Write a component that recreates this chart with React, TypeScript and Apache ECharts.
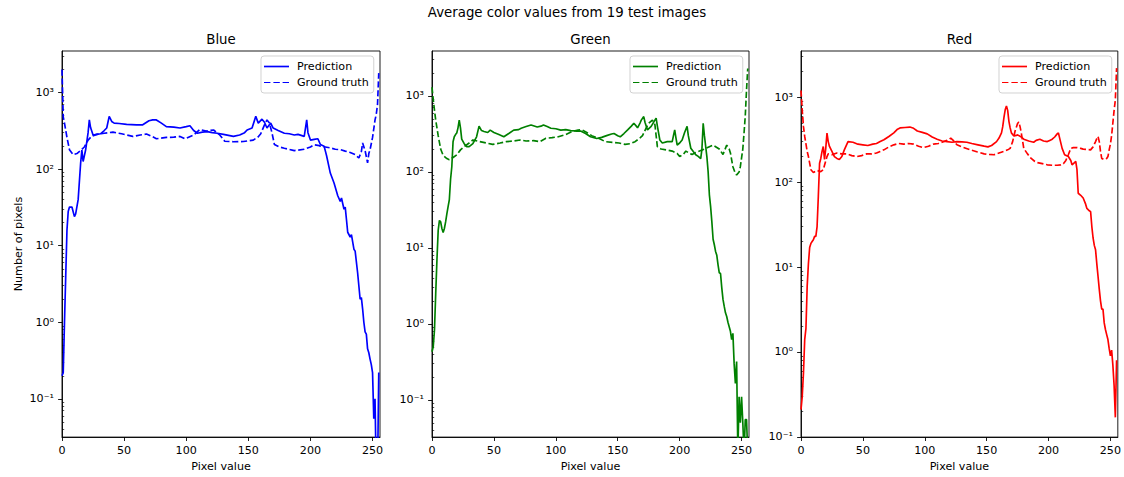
import React, { useEffect, useRef } from "react";
import * as echarts from "echarts";

// ---------- data ----------
const PIXEL_TICKS = [0, 50, 100, 150, 200, 250];
const LOG_TICKS = [0.1, 1, 10, 100, 1000];

const BLUE_GT_X = [0, 1, 2, 4, 6, 9, 12, 15, 18, 21, 24, 28, 34, 41, 48, 57, 63, 68, 72, 76, 84, 90, 95, 99, 106, 111, 116, 122, 127, 131, 138, 146, 154, 158, 160, 163, 165, 167, 169, 171, 175, 179, 187, 195, 200, 203, 206, 208, 212, 216, 220, 224, 228, 232, 236, 239, 241, 242, 244, 246, 247, 248, 250, 252, 253, 254, 255];
const BLUE_GT_Y = [2000, 480, 400, 260, 180, 155, 160, 175, 195, 240, 270, 285, 295, 305, 290, 268, 280, 288, 270, 250, 260, 262, 268, 250, 280, 330, 315, 325, 280, 232, 228, 230, 240, 265, 290, 380, 440, 400, 300, 210, 195, 188, 175, 182, 195, 208, 205, 200, 195, 190, 182, 180, 172, 165, 155, 140, 170, 220, 175, 121, 160, 180, 260, 440, 520, 700, 1800];

const BLUE_PRED_X = [0, 1, 2, 3, 4, 5, 6, 8, 10, 11, 13, 15, 16, 17, 19, 21, 22, 23, 25, 28, 31, 34, 36, 38, 40, 42, 46, 52, 60, 65, 70, 73, 76, 80, 84, 90, 95, 100, 103, 106, 109, 113, 117, 121, 125, 130, 138, 143, 147, 149, 153, 156, 158, 161, 163, 165, 168, 170, 174, 179, 183, 187, 190, 195, 197, 198, 200, 203, 206, 208, 211, 213, 216, 219, 222, 224, 225, 227, 228, 229, 230, 232, 233, 235, 236, 238, 240, 241, 242, 243, 244, 245, 246, 247, 248, 249, 250, 251, 252, 253, 254, 255];
const BLUE_PRED_Y = [0.2, 0.22, 1.0, 4, 16, 28, 32, 32, 24, 26, 40, 120, 178, 126, 178, 300, 440, 350, 280, 285, 290, 320, 345, 490, 420, 400, 395, 385, 380, 380, 430, 440, 440, 400, 360, 355, 345, 360, 370, 320, 295, 305, 310, 300, 295, 285, 268, 280, 300, 325, 345, 490, 400, 450, 410, 345, 400, 345, 320, 295, 290, 280, 285, 268, 440, 300, 240, 245, 250, 210, 200, 150, 89, 66, 45, 38, 42, 30, 32, 22, 15, 13, 14, 9, 8.5, 4.4, 2, 2.1, 1.5, 1.0, 0.75, 0.7, 0.45, 0.4, 0.33, 0.28, 0.22, 0.055, 0.1, 0.01, 0.01, 0.22];

const GREEN_GT_X = [0, 1, 2, 3, 5, 7, 9, 12, 14, 17, 20, 23, 26, 30, 33, 38, 44, 49, 55, 60, 66, 71, 76, 82, 87, 92, 97, 102, 108, 113, 118, 121, 125, 129, 135, 140, 146, 151, 156, 160, 164, 168, 170, 173, 175, 178, 180, 182, 185, 189, 194, 198, 200, 203, 205, 208, 210, 213, 216, 220, 224, 227, 230, 232, 235, 238, 240, 241, 243, 245, 246, 248, 249, 251, 252, 253, 254, 255];
const GREEN_GT_Y = [1300, 900, 650, 480, 300, 200, 165, 150, 145, 155, 168, 195, 215, 240, 263, 252, 240, 230, 240, 250, 255, 263, 255, 258, 250, 277, 282, 290, 310, 340, 355, 360, 330, 300, 275, 250, 245, 240, 230, 235, 250, 280, 300, 380, 436, 480, 420, 215, 200, 195, 188, 175, 160, 170, 188, 175, 170, 180, 188, 200, 214, 225, 210, 200, 170, 225, 200, 178, 117, 95, 91, 100, 117, 200, 325, 550, 1200, 2300];

const GREEN_PRED_X = [0, 1, 2, 3, 4, 5, 6, 7, 8, 9, 10, 11, 12, 13, 14, 15, 16, 17, 18, 19, 20, 21, 22, 23, 24, 26, 28, 30, 33, 36, 38, 40, 42, 45, 47, 50, 54, 58, 62, 66, 70, 72, 76, 80, 85, 88, 90, 93, 96, 100, 104, 108, 112, 116, 120, 124, 128, 133, 137, 141, 145, 147, 150, 152, 155, 158, 161, 163, 165, 166, 168, 169, 171, 172, 174, 177, 180, 181, 182, 184, 186, 190, 194, 195, 196, 197, 198, 200, 202, 204, 206, 207, 209, 211, 213, 215, 217, 218, 219, 220, 222, 223, 224, 225, 226, 227, 228, 229, 230, 231, 232, 233, 234, 235, 236, 237, 238, 239, 240, 241, 242, 243, 244, 245, 246, 247, 248, 249, 250, 251, 252, 253, 254, 255];
const GREEN_PRED_Y = [0.43, 0.5, 0.83, 2.5, 7, 17, 23, 22, 18, 16, 18, 22, 28, 35, 43, 80, 117, 250, 290, 310, 325, 380, 480, 380, 270, 235, 215, 215, 235, 290, 400, 350, 340, 330, 355, 330, 310, 290, 320, 355, 360, 375, 395, 415, 390, 400, 415, 395, 375, 370, 355, 360, 350, 345, 345, 320, 290, 275, 285, 300, 315, 320, 300, 290, 320, 357, 400, 436, 400, 380, 440, 480, 535, 450, 357, 397, 480, 510, 400, 263, 240, 250, 250, 300, 357, 280, 226, 240, 263, 330, 397, 300, 205, 185, 168, 160, 150, 200, 436, 300, 158, 100, 50, 35, 22, 13, 11, 9, 8, 6, 4.7, 4.6, 3, 2.1, 1.7, 1.4, 1.25, 1.05, 0.92, 0.8, 0.62, 0.75, 0.3, 0.165, 0.32, 0.02, 0.11, 0.05, 0.11, 0.05, 0.02, 0.055, 0.055, 0.02];

const RED_GT_X = [0, 1, 2, 3, 5, 6, 8, 10, 13, 16, 18, 19, 21, 22, 25, 29, 33, 37, 41, 45, 49, 53, 57, 61, 64, 67, 71, 75, 79, 83, 87, 91, 95, 99, 103, 107, 111, 114, 118, 121, 123, 126, 130, 137, 142, 148, 152, 156, 160, 164, 167, 169, 171, 173, 175, 176, 177, 178, 180, 183, 186, 189, 191, 195, 199, 203, 207, 210, 212, 214, 216, 218, 220, 223, 226, 228, 231, 234, 236, 238, 239, 240, 241, 242, 243, 245, 247, 248, 249, 250, 251, 252, 253, 254, 255];
const RED_GT_Y = [1200, 700, 450, 345, 230, 200, 140, 130, 137, 133, 140, 158, 200, 215, 210, 220, 215, 215, 205, 200, 205, 215, 215, 220, 230, 240, 260, 275, 285, 280, 285, 280, 265, 255, 265, 280, 285, 295, 310, 330, 310, 275, 260, 240, 228, 215, 212, 210, 220, 230, 240, 250, 300, 400, 490, 510, 450, 380, 250, 215, 190, 175, 170, 165, 160, 158, 158, 160, 165, 180, 210, 250, 255, 255, 250, 245, 242, 240, 260, 300, 325, 345, 300, 230, 190, 185, 190, 200, 240, 280, 355, 500, 700, 930, 2200];

const RED_PRED_X = [0, 1, 2, 3, 4, 5, 6, 7, 8, 9, 10, 11, 12, 13, 14, 15, 16, 17, 18, 19, 20, 21, 22, 23, 25, 27, 29, 31, 33, 35, 38, 42, 46, 50, 54, 58, 61, 64, 67, 71, 75, 78, 80, 84, 88, 91, 94, 98, 102, 106, 110, 114, 118, 122, 126, 130, 134, 138, 143, 148, 151, 154, 158, 160, 162, 163, 164, 165, 166, 167, 168, 169, 170, 172, 174, 175, 178, 180, 184, 188, 190, 193, 196, 199, 201, 203, 205, 207, 208, 209, 211, 213, 216, 218, 219, 221, 222, 223, 224, 226, 228, 230, 231, 233, 234, 235, 236, 237, 238, 239, 240, 241, 242, 243, 244, 245, 246, 247, 248, 249, 250, 251, 252, 253, 254, 255];
const RED_PRED_Y = [0.21, 0.3, 0.57, 1.4, 1.9, 6, 11, 17, 19, 20, 21, 23, 23, 30, 68, 167, 190, 230, 263, 185, 250, 377, 300, 263, 230, 200, 190, 185, 200, 240, 300, 295, 280, 275, 270, 280, 285, 300, 315, 345, 380, 420, 435, 440, 445, 430, 400, 385, 370, 340, 320, 305, 300, 295, 300, 298, 295, 285, 275, 265, 260, 270, 300, 330, 380, 450, 580, 710, 790, 700, 520, 435, 380, 350, 355, 360, 340, 320, 305, 295, 310, 320, 305, 300, 310, 320, 340, 370, 380, 330, 250, 210, 200, 180, 160, 170, 175, 140, 74, 70, 65, 55, 49, 46, 45, 30, 22, 18, 16, 11, 7.8, 5.5, 4, 3.2, 3.2, 2.2, 1.84, 1.6, 1.4, 1.1, 0.9, 1.05, 0.7, 0.4, 0.17, 0.8];

// ---------- layout / style ----------
const PT = 80 / 72; // px per point (figure rendered at ~80 dpi)
const FONT = "DejaVu Sans";
const TICK_FS = 10 * PT;
const TITLE_FS = 12 * PT;
const LW = 1.5 * PT;
const DASH = [3.7 * LW, 1.6 * LW];
const GRID_TOP = 51;
const GRID_H = 387;

// legend handle shapes: a solid bar and a dashed bar (scaled to itemWidth x itemHeight)
const SOLID_ICON = "rect";
const DASHED_ICON =
  "path://M0,0 h6.2 v1 h-6.2 Z M9.1,0 h6.2 v1 h-6.2 Z M18.0,0 h6.2 v1 h-6.2 Z";

const PANELS = [
  { key: "Blue", color: "#0000ff", left: 62, width: 318, yMin: 0.0316, yMax: 3500, legendLeft: 261,
    gtX: BLUE_GT_X, gtY: BLUE_GT_Y, predX: BLUE_PRED_X, predY: BLUE_PRED_Y, yName: "Number of pixels" },
  { key: "Green", color: "#008000", left: 432, width: 317, yMin: 0.0324, yMax: 3900, legendLeft: 630,
    gtX: GREEN_GT_X, gtY: GREEN_GT_Y, predX: GREEN_PRED_X, predY: GREEN_PRED_Y, yName: "" },
  { key: "Red", color: "#ff0000", left: 801, width: 317, yMin: 0.0995, yMax: 3500, legendLeft: 999,
    gtX: RED_GT_X, gtY: RED_GT_Y, predX: RED_PRED_X, predY: RED_PRED_Y, yName: "" },
];

const SUP: Record<string, string> = {
  "-": "\u207B", "0": "\u2070", "1": "\u00B9", "2": "\u00B2", "3": "\u00B3",
  "4": "\u2074", "5": "\u2075", "6": "\u2076", "7": "\u2077", "8": "\u2078", "9": "\u2079",
};

function fmtLog(v: number): string {
  const e = Math.log10(v);
  const r = Math.round(e);
  if (Math.abs(e - r) > 1e-6) return "";
  return "10" + String(r).split("").map((c) => SUP[c] || c).join("");
}

function minorTicks(lo: number, hi: number): number[] {
  const out: number[] = [];
  for (let e = -3; e <= 4; e++) {
    for (let m = 2; m <= 9; m++) {
      const v = m * Math.pow(10, e);
      if (v > lo && v < hi) out.push(v);
    }
  }
  return out;
}

function zip(xs: number[], ys: number[]): number[][] {
  return xs.map((x, i) => [x, ys[i]]);
}

function buildOption() {
  const grid: any[] = [];
  const xAxis: any[] = [];
  const yAxis: any[] = [];
  const series: any[] = [];
  const legend: any[] = [];
  const title: any[] = [
    {
      text: "Average color values from 19 test images",
      left: 567, top: 6, textAlign: "center", padding: 0,
      textStyle: { fontFamily: FONT, fontSize: TITLE_FS, fontWeight: "normal", color: "#000" },
    },
  ];
  const axisLineStyle = { color: "#000", width: 0.8 * PT };

  PANELS.forEach((p, i) => {
    grid.push({ left: p.left, top: GRID_TOP, width: p.width, height: GRID_H, show: true,
      borderColor: "#000", borderWidth: 0.8 * PT, backgroundColor: "transparent" });
    title.push({
      text: p.key, left: p.left + p.width / 2, top: 33, textAlign: "center", padding: 0,
      textStyle: { fontFamily: FONT, fontSize: TITLE_FS, fontWeight: "normal", color: "#000" },
    });
    xAxis.push({
      type: "value", gridIndex: i, min: 0, max: 256,
      name: "Pixel value", nameLocation: "middle", nameGap: 22,
      nameTextStyle: { fontFamily: FONT, fontSize: TICK_FS, color: "#000" },
      axisLine: { show: true, onZero: false, lineStyle: axisLineStyle },
      axisTick: { show: true, length: 3.5 * PT, lineStyle: axisLineStyle, customValues: PIXEL_TICKS },
      axisLabel: { fontFamily: FONT, fontSize: TICK_FS, color: "#000", margin: 8, customValues: PIXEL_TICKS },
      splitLine: { show: false },
    });
    const majors = LOG_TICKS.filter((v) => v >= p.yMin && v <= p.yMax);
    yAxis.push({
      type: "log", logBase: 10, gridIndex: i, min: p.yMin, max: p.yMax,
      name: p.yName, nameLocation: "middle", nameGap: 38, nameRotate: 90,
      nameTextStyle: { fontFamily: FONT, fontSize: TICK_FS, color: "#000" },
      axisLine: { show: true, onZero: false, lineStyle: axisLineStyle },
      axisTick: { show: true, length: 3.5 * PT, lineStyle: axisLineStyle, customValues: majors },
      axisLabel: { fontFamily: FONT, fontSize: TICK_FS, color: "#000", margin: 8, customValues: majors,
        formatter: (v: number) => fmtLog(v) },
      splitLine: { show: false },
    });
    yAxis.push({
      type: "log", logBase: 10, gridIndex: i, min: p.yMin, max: p.yMax,
      axisLine: { show: false },
      axisTick: { show: true, length: 2 * PT, lineStyle: { color: "#000", width: 0.6 * PT },
        customValues: minorTicks(p.yMin, p.yMax) },
      axisLabel: { show: false },
      splitLine: { show: false },
    });
    const predName = p.key + "|Prediction";
    const gtName = p.key + "|Ground truth";
    series.push({
      type: "line", name: predName, xAxisIndex: i, yAxisIndex: i * 2,
      data: zip(p.predX, p.predY), symbol: "none", showSymbol: false,
      lineStyle: { color: p.color, width: LW }, itemStyle: { color: p.color }, clip: true,
    });
    series.push({
      type: "line", name: gtName, xAxisIndex: i, yAxisIndex: i * 2,
      data: zip(p.gtX, p.gtY), symbol: "none", showSymbol: false,
      lineStyle: { color: p.color, width: LW, type: DASH }, itemStyle: { color: p.color }, clip: true,
    });
    legend.push({
      orient: "vertical", left: p.legendLeft, top: 56,
      data: [
        { name: predName, icon: SOLID_ICON },
        { name: gtName, icon: DASHED_ICON },
      ],
      formatter: (n: string) => n.split("|")[1],
      itemWidth: 25, itemHeight: LW, itemGap: 5,
      padding: [5, 5, 5, 3],
      borderColor: "#cccccc", borderWidth: 0.8 * PT, borderRadius: 3,
      backgroundColor: "rgba(255,255,255,0.8)",
      selectedMode: false,
      itemStyle: { borderWidth: 0 },
      textStyle: { fontFamily: FONT, fontSize: TICK_FS, color: "#000", padding: [1, 0, 1, 3] },
    });
  });

  return {
    animation: false,
    backgroundColor: "#ffffff",
    textStyle: { fontFamily: FONT },
    title, grid, xAxis, yAxis, series, legend,
  };
}

export default function App() {
  const ref = useRef<HTMLDivElement>(null);
  useEffect(() => {
    document.body.style.margin = "0";
    if (!ref.current) return;
    const chart = echarts.init(ref.current, null, { renderer: "svg" });
    chart.setOption(buildOption() as any);
    return () => chart.dispose();
  }, []);
  return (
    <div
      ref={ref}
      style={{ position: "absolute", left: 0, top: 0, width: 1124, height: 477, background: "#fff" }}
    />
  );
}
